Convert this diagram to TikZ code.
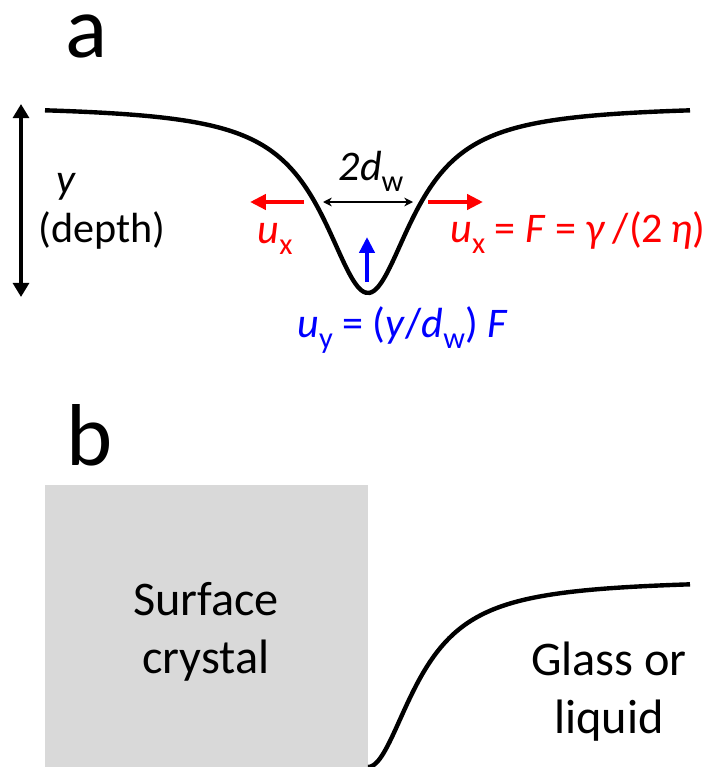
\documentclass[tikz,border=0pt]{standalone}
\usepackage{fontspec}
\setmainfont{Carlito}
\usetikzlibrary{arrows.meta, positioning}
\definecolor{crystalgray}{HTML}{D9D9D9}
\newcommand{\lowidx}[1]{\raisebox{-0.27em}{\scalebox{0.72}{#1}}}

\begin{document}
\begin{tikzpicture}[x=0.02cm, y=-0.02cm,
lblA/.style={inner sep=0pt, font=\fontsize{24}{29}\selectfont},
lblB/.style={inner sep=0pt, align=center, font=\fontsize{27.5}{33}\selectfont},
panel/.style={inner sep=0pt, text depth=0pt, font=\fontsize{50}{60}\selectfont},
profile/.style={line width=2.5pt, line join=round},
depthto/.style={line width=2pt, {Triangle[length=8pt, width=9pt]}-{Triangle[length=8pt, width=9pt]}},
widthto/.style={line width=0.8pt, {Stealth[length=5pt, width=5pt]}-{Stealth[length=5pt, width=5pt]}},
flowto/.style={line width=2.8pt, -{Triangle[length=9pt, width=8.5pt]}}
]
\useasboundingbox (0,0) rectangle (707,767);

% panel a
\node[panel, anchor=base, text height=1ex] (pa) at (87,58) {a};
\draw[profile] plot[domain=45:690, samples=160, smooth] (\x, {105+188/(1+((\x-368)/55)^2)});

\coordinate (dtop) at (21,104);
\coordinate (dbot) at (21,297);
\draw[depthto] (dtop) -- (dbot);
\node[lblA, anchor=base, font=\fontsize{24}{29}\selectfont\itshape] (ylab) at (66,193) {y};
\node[lblA, anchor=base] (depth) at (102,242) {(depth)};

\coordinate (wl) at (323,202);
\coordinate (wr) at (413,202);
\draw[widthto] (wl) -- (wr);
\node[lblA, anchor=base] (dw) at (371,180) {\textit{2d}\lowidx{w}};

\coordinate (uxl0) at (304,202);
\coordinate (uxl1) at (250,202);
\coordinate (uxr0) at (428,202);
\coordinate (uxr1) at (483,202);
\draw[flowto, red] (uxl0) -- (uxl1);
\draw[flowto, red] (uxr0) -- (uxr1);
\node[lblA, anchor=base, red] (uxleft) at (275,243) {\textit{u}\lowidx{x}};
\node[lblA, anchor=base west, red] (uxright) at (450,242) {\textit{u}\lowidx{x} = \textit{F} = \textit{γ}\,/(2\,\textit{η})};

\coordinate (uy0) at (367,282);
\coordinate (uy1) at (367,237);
\draw[flowto, blue, line width=2.4pt] (uy0) -- (uy1);
\node[lblA, anchor=base west, blue] (uy) at (297,337) {\textit{u}\lowidx{y} = (\textit{y}/\textit{d}\lowidx{w}) \textit{F}};

% panel b
\node[panel, anchor=base] (pb) at (90,465) {b};
\fill[crystalgray] (45,485) rectangle (368,767);
\node[lblB, anchor=base] (crystal) at (206,673) {Surface\\crystal};
\draw[profile] plot[domain=368:690, samples=120, smooth] (\x, {579+188/(1+((\x-368)/55)^2)});
\node[lblB, anchor=base] (glass) at (609,733) {Glass or\\liquid};
\end{tikzpicture}
\end{document}
